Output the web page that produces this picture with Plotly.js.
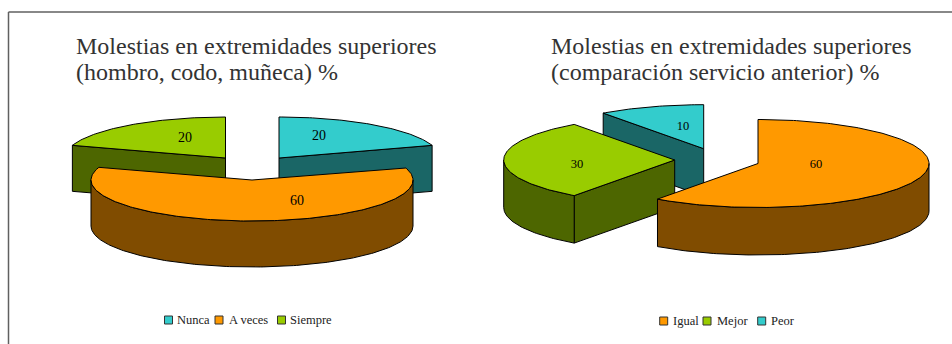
<!DOCTYPE html>
<html>
<head>
<meta charset="utf-8">
<script src="https://cdn.plot.ly/plotly-3.0.1.min.js"></script>
<style>html,body{margin:0;padding:0;background:#fff}#chart{width:952px;height:344px}</style>
</head>
<body>
<div id="chart"></div>
<script>
// ---- data ----
const leftCategories = ['Nunca', 'A veces', 'Siempre'];
const leftValues = [20, 60, 20];
const rightCategories = ['Igual', 'Mejor', 'Peor'];
const rightValues = [60, 30, 10];
const leftTitle = ['Molestias en extremidades superiores', '(hombro, codo, muñeca) %'];
const rightTitle = ['Molestias en extremidades superiores', '(comparación servicio anterior) %'];

// ---- styling and layout ----
const topColors = {cyan: '#33CCCC', orange: '#FF9900', green: '#99CC00'};
const sideColors = {cyan: '#1A6666', orange: '#804C00', green: '#4D6600'};
const SERIF = '"Liberation Serif", "Times New Roman", serif';
const leftPie = {
  rx: 161, ry: 41, depth: 46, labelSize: 14,
  colors: ['cyan', 'orange', 'green'], drawOrder: [0, 2, 1],
  apex: [[279, 158], [252, 180], [225.5, 158]],
  labelOffset: [[40, -21.5], [45, 21], [-40.5, -19.5]],
  legendX: [168.5, 219, 281.5], legendTextX: [176, 228, 289], legendY: 320,
  titleX: 75
};
const rightPie = {
  rx: 171, ry: 44, depth: 47.5, labelSize: 12.5,
  colors: ['orange', 'green', 'cyan'], drawOrder: [2, 1, 0],
  apex: [[758, 163.5], [674.7, 160], [703.7, 148.7]],
  labelOffset: [[58, 1], [-97.7, 4.7], [-20.7, -22]],
  legendX: [663.7, 707, 761.7], legendTextX: [672, 716, 769.6], legendY: 321,
  titleX: 549.5
};

const traces = [];
const rad = d => d * Math.PI / 180;

function arc(pie, c, a0, a1, dy) {
  const xs = [], ys = [];
  const n = Math.max(2, Math.ceil(Math.abs(a1 - a0)));
  for (let i = 0; i <= n; i++) {
    const a = rad(a0 + (a1 - a0) * i / n);
    xs.push(c[0] + pie.rx * Math.sin(a));
    ys.push(c[1] - pie.ry * Math.cos(a) + dy);
  }
  return [xs, ys];
}

function poly(xs, ys, color) {
  traces.push({
    type: 'scatter', mode: 'lines', x: xs.concat(xs[0]), y: ys.concat(ys[0]),
    fill: 'toself', fillcolor: color, line: {color: '#000', width: 1},
    hoverinfo: 'skip', showlegend: false
  });
}

function radialWall(pie, c, a, color) {
  const [px, py] = arc(pie, c, a, a, 0);
  const tx = px[0], ty = py[0];
  poly([c[0], tx, tx, c[0]], [c[1], ty, ty + pie.depth, c[1] + pie.depth], color);
}

function drawPie(pie, categories, values) {
  const total = values.reduce((s, v) => s + v, 0);
  let acc = 0;
  const spans = values.map(v => { const a0 = acc; acc += v / total * 360; return [a0, acc]; });
  pie.drawOrder.forEach(i => {
    const [a0, a1] = spans[i], c = pie.apex[i];
    const side = sideColors[pie.colors[i]], top = topColors[pie.colors[i]];
    if (Math.sin(rad(a0)) < -1e-6) radialWall(pie, c, a0, side);
    if (Math.sin(rad(a1)) > 1e-6) radialWall(pie, c, a1, side);
    const f0 = Math.max(a0, 90), f1 = Math.min(a1, 270);
    if (f1 > f0) {
      const [ux, uy] = arc(pie, c, f0, f1, 0);
      const [lx, ly] = arc(pie, c, f1, f0, pie.depth);
      poly(ux.concat(lx), uy.concat(ly), side);
    }
    const [ax, ay] = arc(pie, c, a0, a1, 0);
    poly([c[0]].concat(ax), [c[1]].concat(ay), top);
  });
  traces.push({
    type: 'scatter', mode: 'text',
    x: values.map((v, i) => pie.apex[i][0] + pie.labelOffset[i][0]),
    y: values.map((v, i) => pie.apex[i][1] + pie.labelOffset[i][1]),
    text: values.map(String), textposition: 'middle center',
    textfont: {family: SERIF, size: pie.labelSize, color: '#000'},
    hoverinfo: 'skip', showlegend: false
  });
  traces.push({
    type: 'scatter', mode: 'markers',
    x: pie.legendX, y: categories.map(() => pie.legendY),
    marker: {symbol: 'square', size: 8, color: pie.colors.map(k => topColors[k]), line: {color: '#333', width: 1}},
    hoverinfo: 'skip', showlegend: false
  });
}

drawPie(leftPie, leftCategories, leftValues);
drawPie(rightPie, rightCategories, rightValues);

function titleLines(lines, x) {
  return lines.map((t, i) => ({
    xref: 'x', yref: 'y', x: x, y: 45.5 + i * 26, text: t, showarrow: false,
    xanchor: 'left', yanchor: 'middle', align: 'left', borderpad: 0,
    font: {family: SERIF, size: 24, color: '#333'}
  }));
}
function legendLabels(pie, categories) {
  return categories.map((t, i) => ({
    xref: 'x', yref: 'y', x: pie.legendTextX[i], y: pie.legendY, text: t, showarrow: false,
    xanchor: 'left', yanchor: 'middle', align: 'left', borderpad: 0,
    font: {family: SERIF, size: 12.5, color: '#222'}
  }));
}

const layout = {
  width: 952, height: 344, margin: {l: 0, r: 0, t: 0, b: 0},
  paper_bgcolor: '#fff', plot_bgcolor: '#fff', showlegend: false,
  xaxis: {range: [0, 952], visible: false, fixedrange: true},
  yaxis: {range: [344, 0], visible: false, fixedrange: true},
  annotations: titleLines(leftTitle, leftPie.titleX)
    .concat(titleLines(rightTitle, rightPie.titleX))
    .concat(legendLabels(leftPie, leftCategories))
    .concat(legendLabels(rightPie, rightCategories)),
  shapes: [
    {type: 'line', xref: 'x', yref: 'y', x0: 8.5, x1: 952, y0: 12, y1: 12, line: {color: '#606060', width: 1.5}},
    {type: 'line', xref: 'x', yref: 'y', x0: 8.5, x1: 8.5, y0: 12, y1: 344, line: {color: '#606060', width: 1.5}}
  ]
};
Plotly.newPlot('chart', traces, layout, {displayModeBar: false, staticPlot: true});
</script>
</body>
</html>
